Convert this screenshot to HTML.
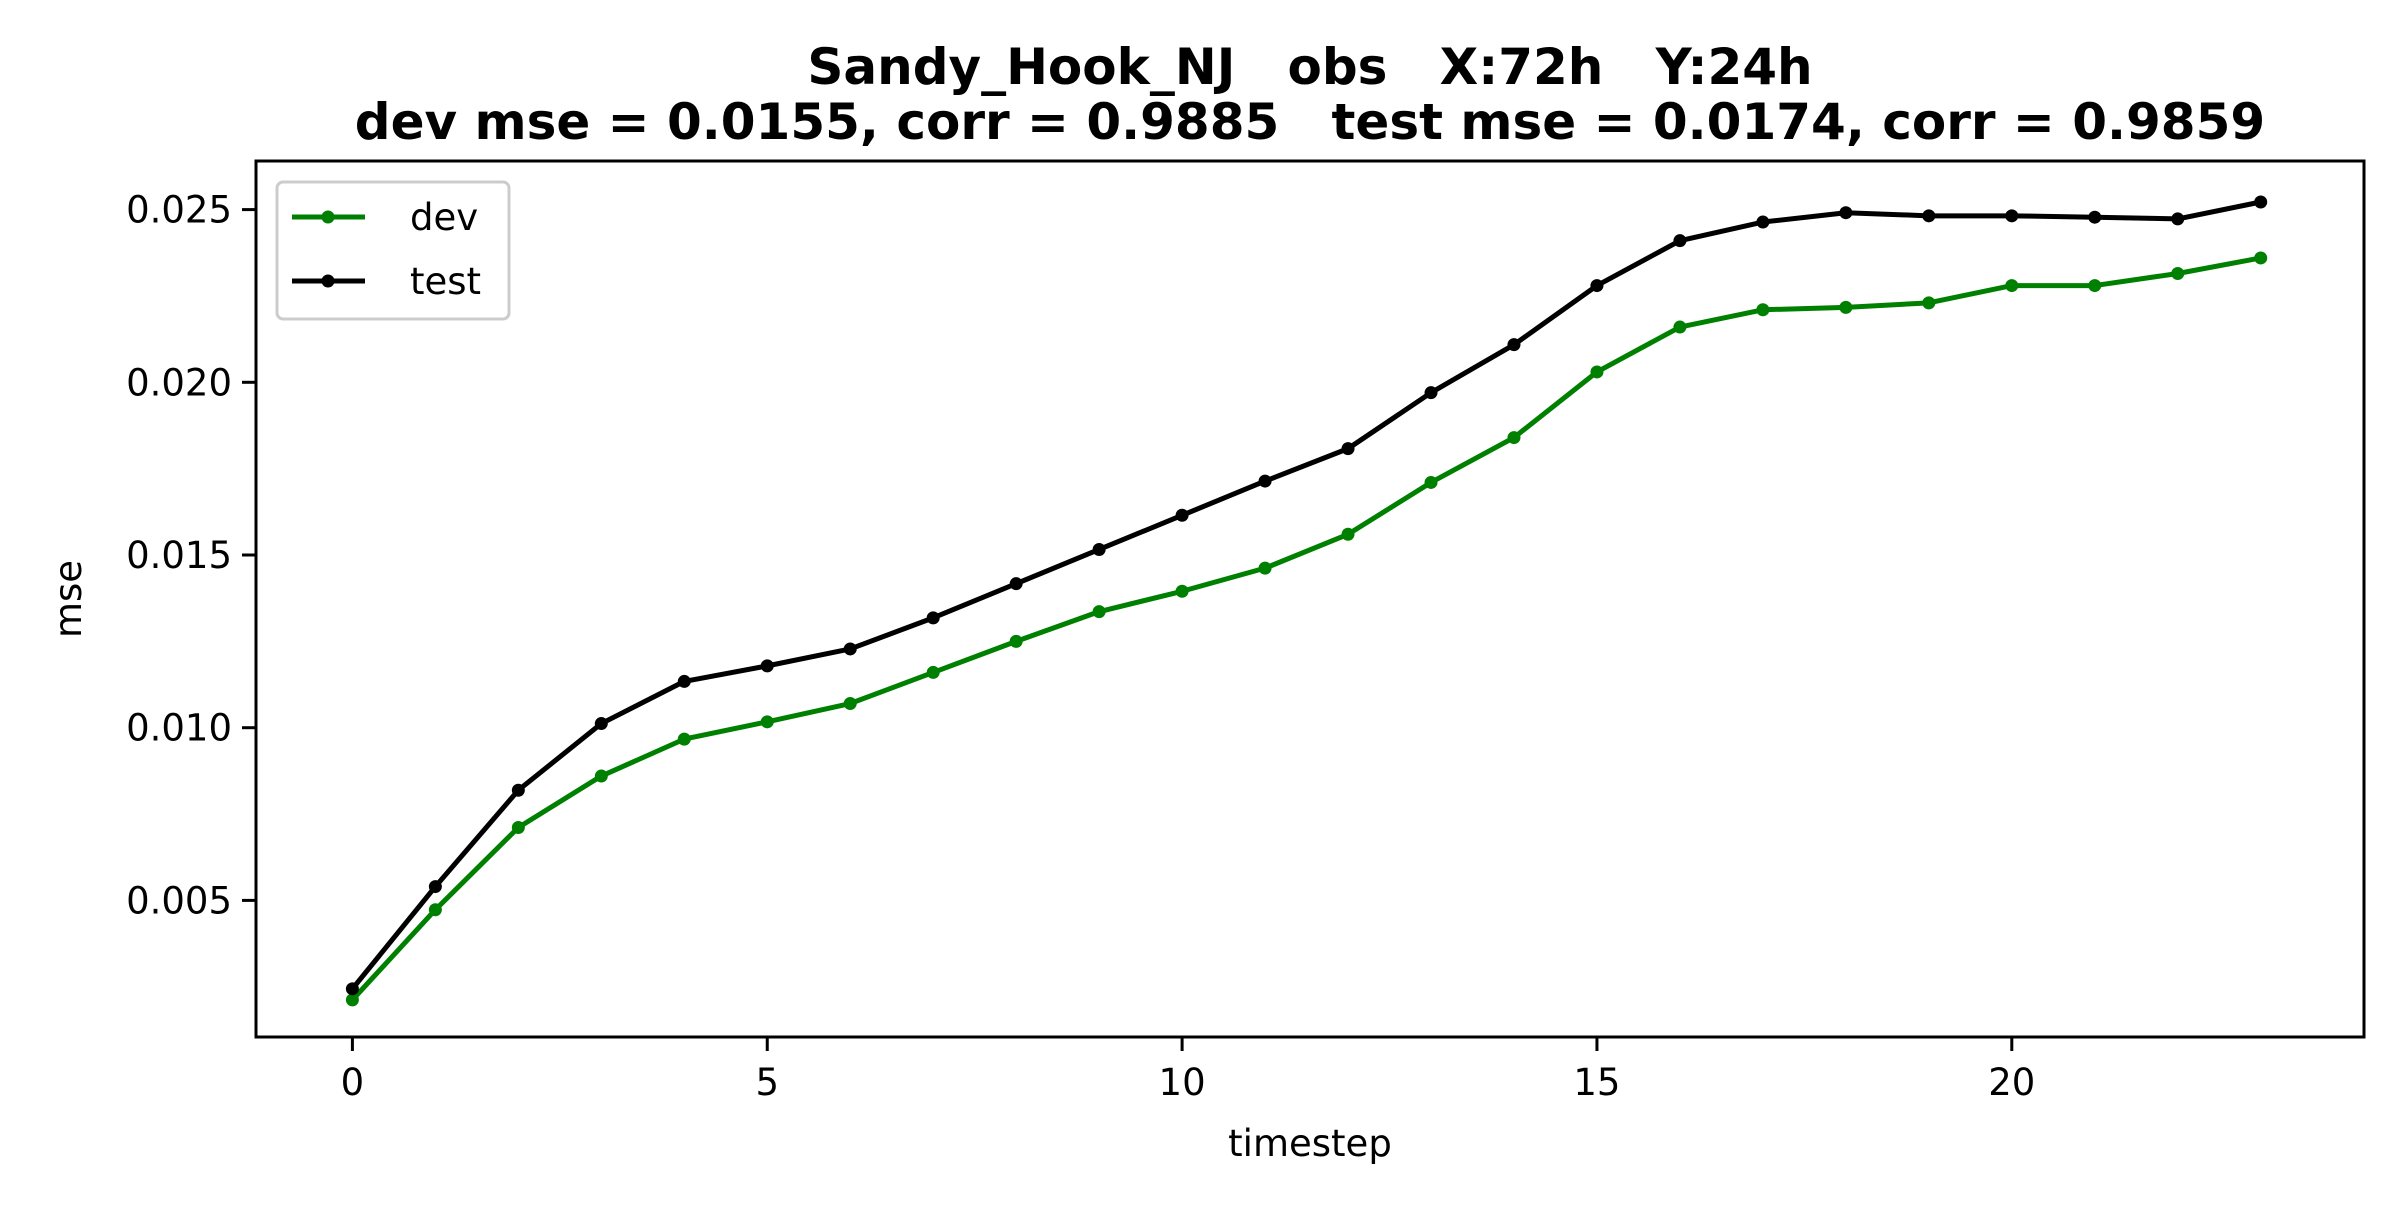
<!DOCTYPE html>
<html><head><meta charset="utf-8"><style>
html,body{margin:0;padding:0;background:#fff;}
svg text{font-family:"DejaVu Sans","Liberation Sans",sans-serif;fill:#000;white-space:pre;}
</style></head><body>
<svg id="chart" width="2400" height="1200" viewBox="0 0 2400 1200" xmlns="http://www.w3.org/2000/svg" xml:space="preserve">
<rect x="0" y="0" width="2400" height="1200" fill="#fff"/>
<text x="1310" y="84" text-anchor="middle" font-size="50" font-weight="bold">Sandy_Hook_NJ   obs   X:72h   Y:24h</text>
<text x="1310" y="139" text-anchor="middle" font-size="50" font-weight="bold">dev mse = 0.0155, corr = 0.9885   test mse = 0.0174, corr = 0.9859</text>
<g id="plot"></g>
<text x="1310" y="1156" text-anchor="middle" font-size="37">timestep</text>
<text x="81" y="599" text-anchor="middle" font-size="37" transform="rotate(-90 81 599)">mse</text>
</svg>
<script>
const timesteps = [0,1,2,3,4,5,6,7,8,9,10,11,12,13,14,15,16,17,18,19,20,21,22,23];
const devValues = [0.00212,0.00473,0.00711,0.0086,0.00967,0.01017,0.0107,0.0116,0.0125,0.01336,0.01395,0.01462,0.0156,0.0171,0.0184,0.0203,0.0216,0.0221,0.02217,0.0223,0.0228,0.0228,0.02315,0.0236];
const testValues = [0.00244,0.0054,0.00819,0.01012,0.01134,0.01179,0.01228,0.01318,0.01417,0.01516,0.01615,0.01714,0.01808,0.0197,0.02109,0.0228,0.0241,0.02464,0.02491,0.02482,0.02482,0.02478,0.02473,0.02522];
const xTicks = [0,5,10,15,20];
const yTicks = [0.005,0.010,0.015,0.020,0.025];
const yTickLabels = ["0.005","0.010","0.015","0.020","0.025"];

const NS="http://www.w3.org/2000/svg";
const L=256,R=2364,T=161,B=1037;
const xs=v=>352.4+v*82.97;
const ys=v=>209.6+(0.025-v)/0.005*172.7;
const g=document.getElementById('plot');
function mk(tag,attrs,parent){const e=document.createElementNS(NS,tag);for(const k in attrs)e.setAttribute(k,attrs[k]);(parent||g).appendChild(e);return e;}

const frame=mk('rect',{x:L,y:T,width:R-L,height:B-T,fill:'none',stroke:'#000','stroke-width':3});



xTicks.forEach(t=>{
  const tk=mk('line',{x1:xs(t),x2:xs(t),y1:B,y2:B+14,stroke:'#000','stroke-width':3});
  
  
  const lb=mk('text',{x:xs(t),y:B+58,'text-anchor':'middle','font-size':37});
  
  
  lb.textContent=String(t);
});
yTicks.forEach((t,i)=>{
  const tk=mk('line',{x1:L-14,x2:L,y1:ys(t),y2:ys(t),stroke:'#000','stroke-width':3});
  
  
  const lb=mk('text',{x:L-24,y:ys(t)+13,'text-anchor':'end','font-size':37});
  
  
  lb.textContent=yTickLabels[i];
});

function series(vals,color,name){
  const pts=timesteps.map((t,i)=>xs(t)+','+ys(vals[i])).join(' ');
  const pl=mk('polyline',{points:pts,fill:'none',stroke:color,'stroke-width':5,'stroke-linejoin':'round'});
  
  
  timesteps.forEach((t,i)=>{
    const c=mk('circle',{cx:xs(t),cy:ys(vals[i]),r:6.5,fill:color});
    
    
  });
}
series(devValues,'#008000','dev');
series(testValues,'#000000','test');

const lg=mk('g',{});


mk('rect',{x:277,y:182,width:232,height:137,rx:6,fill:'#fff',stroke:'#ccc','stroke-width':3},lg);
[['dev','#008000',217],['test','#000',281]].forEach(([n,c,y])=>{
  const e=mk('g',{},lg);
  
  
  mk('line',{x1:292,x2:365,y1:y,y2:y,stroke:c,'stroke-width':5},e);
  mk('circle',{cx:328,cy:y,r:6.5,fill:c},e);
  const t=mk('text',{x:410,y:y+13,'font-size':37},e);
  t.textContent=n;
});
</script>
</body></html>
